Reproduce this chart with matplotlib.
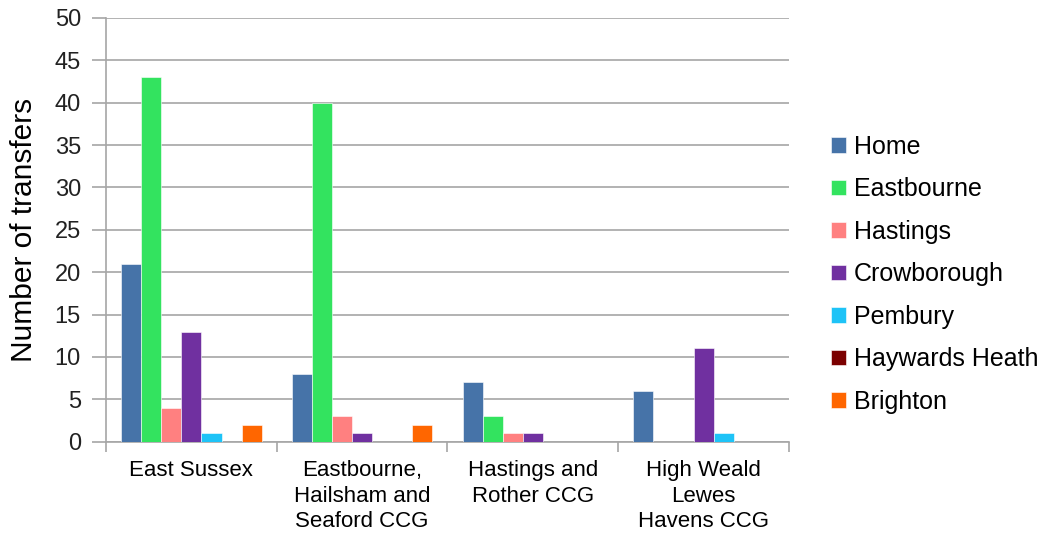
import numpy as np
import matplotlib.pyplot as plt
from matplotlib.ticker import FixedLocator, NullFormatter

plt.rcParams['font.family'] = ['Liberation Sans', 'DejaVu Sans']

# data
categories = ["East Sussex", "Eastbourne,\nHailsham and\nSeaford CCG",
              "Hastings and\nRother CCG", "High Weald\nLewes\nHavens CCG"]
series_names = ["Home", "Eastbourne", "Hastings", "Crowborough",
                "Pembury", "Haywards Heath", "Brighton"]
home = [21, 8, 7, 6]
eastbourne = [43, 40, 3, 0]
hastings = [4, 3, 1, 0]
crowborough = [13, 1, 1, 11]
pembury = [1, 0, 0, 1]
haywards_heath = [0, 0, 0, 0]
brighton = [2, 2, 0, 0]
colors = ["#4673A8", "#33E35F", "#FF8080", "#7030A0",
          "#1EC3F7", "#7B0000", "#FF6600"]

values = [home, eastbourne, hastings, crowborough, pembury, haywards_heath, brighton]

fig = plt.figure(figsize=(10.59, 5.41), dpi=100)
ax = fig.add_axes([106 / 1059, 1 - 441.7 / 541, (789 - 106) / 1059, (441.7 - 18) / 541])

n = len(series_names)
bw = 1 / (n + 1.5)
x = np.arange(len(categories))
for i, (name, vals, c) in enumerate(zip(series_names, values, colors)):
    pos = x - 0.5 + 0.75 * bw + (i + 0.5) * bw
    ax.bar(pos, vals, width=bw, color=c, label=name, zorder=3,
           edgecolor="white", linewidth=0.4)

ax.set_xlim(-0.5, len(categories) - 0.5)
ax.set_ylim(0, 50)
ax.set_yticks(range(0, 51, 5))
ax.yaxis.grid(True, color="#A6A6A6", linewidth=1.2, zorder=0)
ax.tick_params(axis="y", length=10, width=1.2, color="#A6A6A6",
               labelsize=17, pad=8, labelcolor="#222222")

# category boundaries as ticks, labels at centers
ax.xaxis.set_major_locator(FixedLocator(np.arange(len(categories) + 1) - 0.5))
ax.xaxis.set_major_formatter(NullFormatter())
ax.xaxis.set_minor_locator(FixedLocator(x))
ax.set_xticklabels(categories, minor=True, linespacing=1.3)
ax.tick_params(axis="x", which="major", length=7, width=1.2, color="#A6A6A6")
ax.tick_params(axis="x", which="minor", length=0, labelsize=16, pad=13)

for s in ["top", "right"]:
    ax.spines[s].set_visible(False)
for s in ["left", "bottom"]:
    ax.spines[s].set_color("#A6A6A6")
    ax.spines[s].set_linewidth(1.2)

ax.set_ylabel("Number of transfers", fontsize=21.5, labelpad=12)

ax.legend(loc="center left", bbox_to_anchor=(1.029, 0.395), frameon=False,
          fontsize=18, handlelength=0.6, handleheight=0.6, handletextpad=0.3,
          labelspacing=0.74)

fig.savefig("out.png", dpi=100)
